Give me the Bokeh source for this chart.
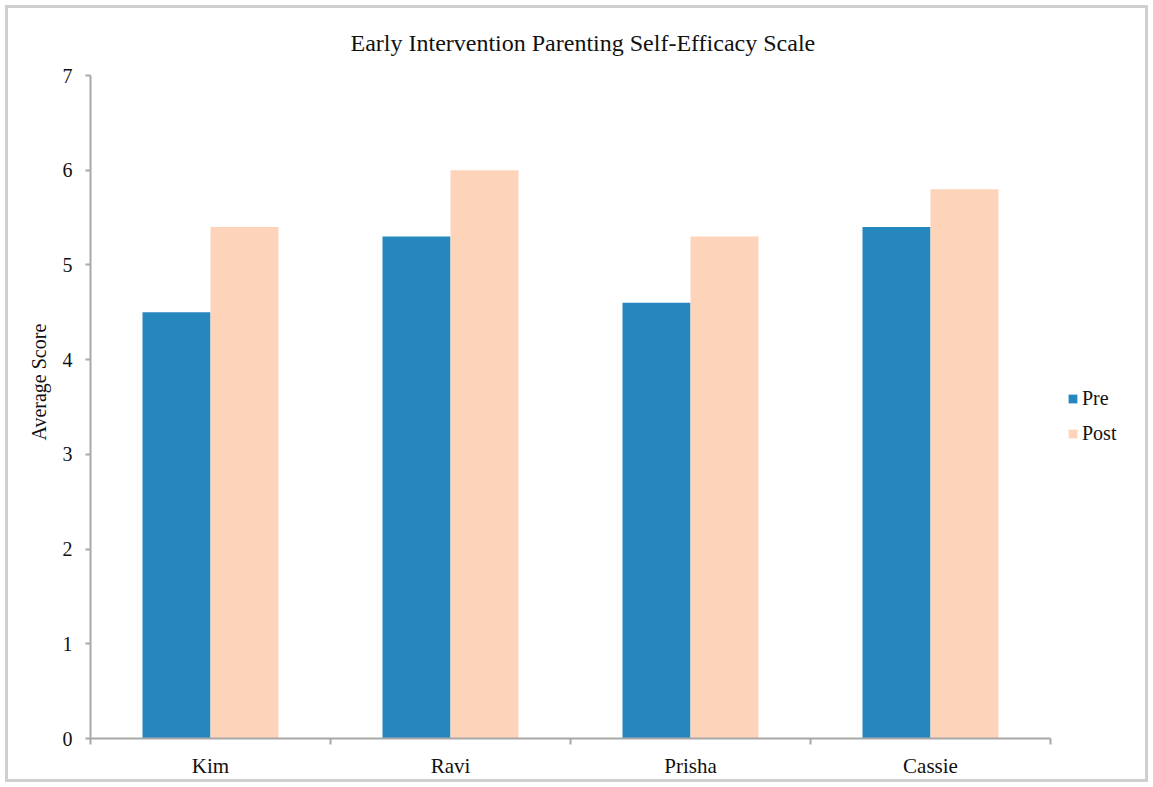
from bokeh.plotting import figure
from bokeh.models import ColumnDataSource, FixedTicker, Range1d, Legend, LegendItem, InlineStyleSheet, Title
from bokeh.transform import dodge
from bokeh.embed import file_html
from bokeh.resources import INLINE

categories = ["Kim", "Ravi", "Prisha", "Cassie"]
pre = [4.5, 5.3, 4.6, 5.4]
post = [5.4, 6.0, 5.3, 5.8]
y_ticks = [0, 1, 2, 3, 4, 5, 6, 7]

PRE_COLOR = "#2687BE"
POST_COLOR = "#FDD4BA"
FONT = "Liberation Serif"

n = len(categories)
xpos = [i + 0.5 for i in range(n)]
src = ColumnDataSource(dict(x=xpos, cat=categories, pre=pre, post=post))

# frame spans from x=90 to x=1148; the category axis occupies 90..1050 (960 px)
frame_w = 1153 - 90 - 5
x_end = n * frame_w / 960.0

p = figure(width=1153, height=787, output_backend="svg", toolbar_location=None,
           x_range=Range1d(0, x_end), y_range=Range1d(0, 7),
           min_border_left=90, min_border_right=5, min_border_top=75, min_border_bottom=49)
p.border_fill_color = None
p.background_fill_color = None
p.stylesheets = [InlineStyleSheet(css=":host { background: white; box-shadow: inset 0 0 0 5px white, inset 0 0 0 8px #cfcfcf; }")]

r_pre = p.vbar(x=dodge("x", -0.1417, range=p.x_range), top="pre", width=0.2833,
               source=src, fill_color=PRE_COLOR, line_color=None)
r_post = p.vbar(x=dodge("x", 0.1417, range=p.x_range), top="post", width=0.2833,
                source=src, fill_color=POST_COLOR, line_color=None)

p.title.text = "Early Intervention Parenting Self-Efficacy Scale"
p.title.text_font = FONT
p.title.text_font_style = "normal"
p.title.text_font_size = "24px"
p.title.align = "left"
p.title.offset = 260
p.title.text_color = "#111111"
p.title.standoff = 40

p.outline_line_color = None
p.xgrid.visible = False
p.ygrid.visible = False

axis_color = "#A8A8A8"
xa = p.xaxis[0]
xa.bounds = (0, n)
xa.ticker = FixedTicker(ticks=xpos, minor_ticks=list(range(n + 1)))
xa.major_label_overrides = {x: c for x, c in zip(xpos, categories)}
xa.major_tick_line_color = None
xa.minor_tick_line_color = axis_color
xa.minor_tick_out = 6
xa.minor_tick_in = 0
xa.minor_tick_line_width = 2
xa.axis_line_color = axis_color
xa.axis_line_width = 2
xa.major_label_text_font = FONT
xa.major_label_text_font_size = "21px"
xa.major_label_text_color = "#111111"
xa.major_label_standoff = 9

ya = p.yaxis[0]
ya.ticker = FixedTicker(ticks=y_ticks)
ya.minor_tick_line_color = None
ya.major_tick_line_color = axis_color
ya.major_tick_out = 5
ya.major_tick_in = 0
ya.major_tick_line_width = 2
ya.axis_line_color = axis_color
ya.axis_line_width = 2
ya.major_label_text_font = FONT
ya.major_label_text_font_size = "20px"
ya.major_label_text_color = "#111111"
ya.major_label_standoff = 13

ylabel = Title(text="Average Score", align="left", offset=298, standoff=19,
               text_font=FONT, text_font_style="normal", text_font_size="20px",
               text_color="#111111")
p.add_layout(ylabel, "left")

legend = Legend(items=[LegendItem(label="Pre", renderers=[r_pre]),
                       LegendItem(label="Post", renderers=[r_post])],
                location=(977, 293), orientation="vertical",
                label_text_font=FONT, label_text_font_size="20px", label_text_color="#111111",
                glyph_width=11, glyph_height=11, label_standoff=4, spacing=12,
                margin=0, padding=10,
                border_line_color=None, background_fill_alpha=0)
p.add_layout(legend, "center")

open("out.html", "w").write(file_html(p, INLINE))
